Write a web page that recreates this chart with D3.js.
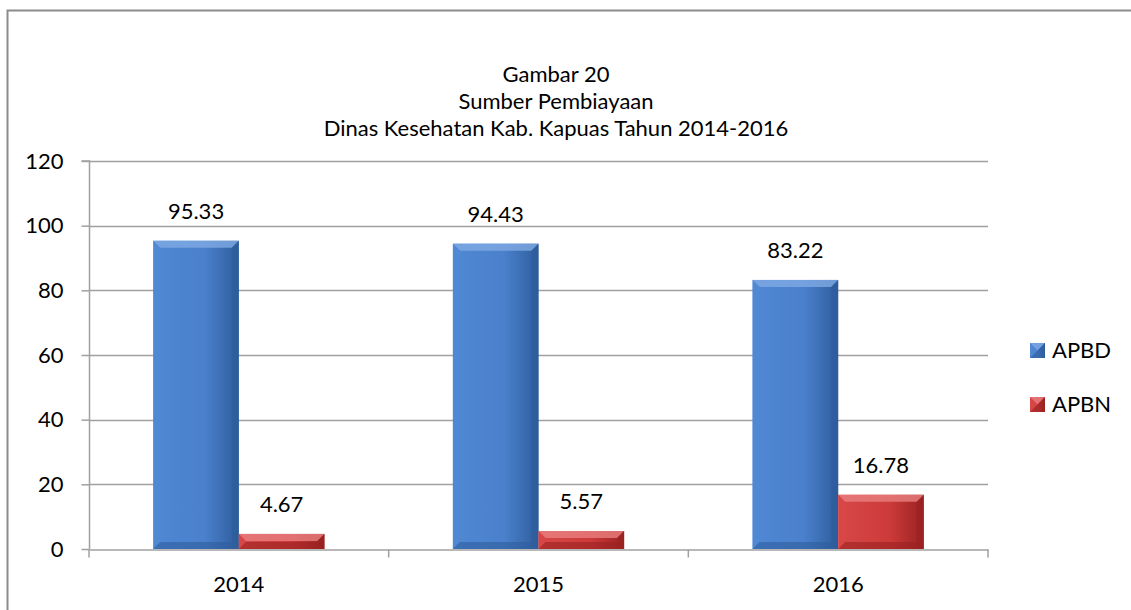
<!DOCTYPE html>
<html><head><meta charset="utf-8">
<script src="https://cdn.jsdelivr.net/npm/d3@7"></script>
<style>body{margin:0;background:#fff}text{font-family:Lato,"Open Sans",sans-serif;fill:#000}</style>
</head><body><svg id="c" width="1131" height="610"></svg>
<script>
const categories = ["2014","2015","2016"];
const seriesNames = ["APBD","APBN"];
const apbd = [95.33, 94.43, 83.22];
const apbn = [4.67, 5.57, 16.78];
const yTicks = [0,20,40,60,80,100,120];
const titleLines = ["Gambar 20","Sumber Pembiayaan","Dinas Kesehatan Kab. Kapuas Tahun 2014-2016"];

const FS = 22;
const svg = d3.select("#c");
const W=1131,H=610;
const m={l:89,r:988,t:161,b:549};
const x = d3.scaleBand().domain(categories).range([m.l,m.r]).paddingInner(0).paddingOuter(0);
const x1 = d3.scaleBand().domain(seriesNames).range([0,x.bandwidth()]).paddingInner(0).paddingOuter(0.75);
const y = d3.scaleLinear().domain([0,120]).range([m.b,m.t]);
const colors = {APBD:{base:"#4A80CC",light:"#7FAAE4",dark:"#2E5D9C",mid:"#5088D4"},
                APBN:{base:"#CD3A3A",light:"#E98080",dark:"#9A2222",mid:"#D84848"}};

// border
svg.append("path").attr("d",`M7.5,${H+5} L7.5,10.5 L${W+5},10.5`).attr("fill","none").attr("stroke","#8c8c8c").attr("stroke-width",2);

// title
svg.append("g").selectAll("text").data(titleLines).join("text")
  .attr("x",556).attr("y",(d,i)=>82+i*27).attr("text-anchor","middle").attr("font-size",FS).text(d=>d);

// gridlines
svg.append("g").selectAll("line").data(yTicks.slice(1)).join("line")
  .attr("x1",m.l).attr("x2",m.r).attr("y1",d=>Math.round(y(d))+0.5).attr("y2",d=>Math.round(y(d))+0.5)
  .attr("stroke","#a0a0a0").attr("stroke-width",1.5);

// y axis
const ya = svg.append("g").attr("transform",`translate(${m.l+0.5},0)`)
  .call(d3.axisLeft(y).tickValues(yTicks).tickSize(8).tickPadding(18).tickFormat(d3.format("d")));
ya.select(".domain").attr("stroke","#a0a0a0").attr("stroke-width",1.5).attr("d",`M-8,${m.t}H0V${m.b}`);
ya.selectAll(".tick line").attr("stroke","#a0a0a0").attr("stroke-width",1.5);
ya.selectAll("text").attr("font-size",FS).attr("font-family","Lato,sans-serif");

// x axis
const xa = svg.append("g").attr("transform",`translate(0,${m.b+0.5})`)
  .call(d3.axisBottom(x).tickSize(0).tickPadding(27));
xa.select(".domain").attr("stroke","#a0a0a0").attr("stroke-width",1.5);
xa.selectAll("text").attr("font-size",FS).attr("font-family","Lato,sans-serif");
xa.selectAll("line.sep").data([m.l,...categories.map(c=>x(c)+x.bandwidth())]).join("line").attr("class","sep")
  .attr("x1",d=>d).attr("x2",d=>d).attr("y1",0).attr("y2",8).attr("stroke","#a0a0a0").attr("stroke-width",1.5);

// gradients
const defs = svg.append("defs");
for (const s of seriesNames){
  const c=colors[s];
  const g=defs.append("linearGradient").attr("id","g"+s).attr("x1",0).attr("x2",1).attr("y1",0).attr("y2",0);
  g.append("stop").attr("offset","0%").attr("stop-color",c.mid);
  g.append("stop").attr("offset","60%").attr("stop-color",c.base);
  g.append("stop").attr("offset","100%").attr("stop-color",c.dark);
}

function bevelBar(g, x0, w, yTop, yBot, s){
  const c=colors[s];
  const b=Math.min(7,(yBot-yTop)/2);
  const x2=x0+w;
  g.append("rect").attr("x",x0).attr("y",yTop).attr("width",w).attr("height",yBot-yTop).attr("fill",`url(#g${s})`);
  g.append("path").attr("d",`M${x0},${yTop}L${x2},${yTop}L${x2-b},${yTop+b}L${x0+b},${yTop+b}Z`).attr("fill",c.light).attr("opacity",0.8);
  g.append("path").attr("d",`M${x0},${yTop}L${x0+b},${yTop+b}L${x0+b},${yBot-b}L${x0},${yBot}Z`).attr("fill",c.mid).attr("opacity",0.6);
  g.append("path").attr("d",`M${x2},${yTop}L${x2-b},${yTop+b}L${x2-b},${yBot-b}L${x2},${yBot}Z`).attr("fill",c.dark).attr("opacity",0.7);
  g.append("path").attr("d",`M${x0},${yBot}L${x0+b},${yBot-b}L${x2-b},${yBot-b}L${x2},${yBot}Z`).attr("fill",c.dark).attr("opacity",0.6);
}

const data = categories.map((c,i)=>({cat:c, vals:[{s:"APBD",v:apbd[i]},{s:"APBN",v:apbn[i]}]}));
const bars = svg.append("g");
data.forEach(d=>{
  d.vals.forEach(v=>{
    const bx = x(d.cat)+x1(v.s);
    const g=bars.append("g");
    bevelBar(g,bx,x1.bandwidth(),y(v.v),y(0),v.s);
    g.append("text").attr("x",bx+x1.bandwidth()/2).attr("y",y(v.v)-22).attr("text-anchor","middle")
      .attr("font-size",FS).text(v.v.toFixed(2));
  });
});

// legend
const lg = svg.append("g");
seriesNames.forEach((s,i)=>{
  const ly = 350 + i*54;
  const g=lg.append("g");
  bevelBar(g,1030,15,ly-7,ly+8,s);
  g.append("text").attr("x",1052).attr("y",ly+8).attr("font-size",FS).text(s);
});
</script></body></html>
